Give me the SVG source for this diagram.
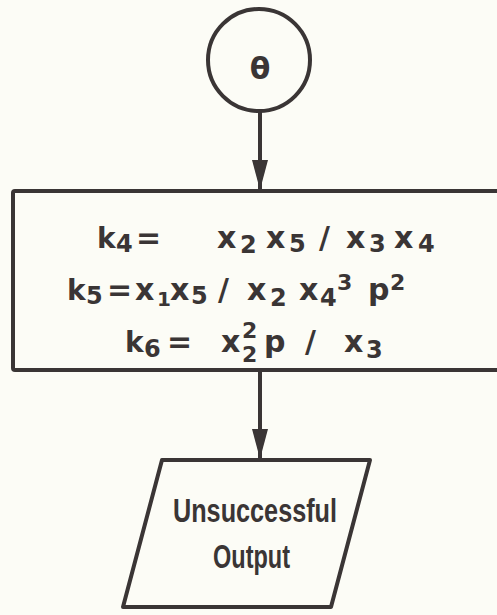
<svg xmlns="http://www.w3.org/2000/svg" width="497" height="615" viewBox="0 0 497 615">
<defs>
<style>
.s{fill:none;stroke:#3a3535;stroke-width:4;stroke-linejoin:round}
.eq{font-family:"DejaVu Sans",sans-serif;font-weight:bold;font-size:30px;fill:#3a3535}
.k{font-size:28px}
.sub{font-size:24px}
.sup{font-size:22px}
.one{font-size:20px}
.out{font-family:"Liberation Sans",sans-serif;font-weight:bold;font-size:33px;fill:#3a3535}
</style>
<marker id="ah" viewBox="0 0 30 16" refX="30" refY="8" markerWidth="30" markerHeight="16" markerUnits="userSpaceOnUse" orient="auto">
<path d="M0,0 L30,8 L0,16 Z" fill="#3a3535"/>
</marker>
</defs>
<rect width="497" height="615" fill="#fcfcf6"/>
<g id="connectors">
<line class="s" x1="260" y1="111" x2="260" y2="190" marker-end="url(#ah)"/>
<line class="s" x1="260" y1="371" x2="260" y2="459" marker-end="url(#ah)"/>
</g>
<g id="theta">
<circle class="s" cx="259" cy="60" r="51"/>
<text x="260" y="79" text-anchor="middle" class="eq" font-size="39">θ</text>
</g>
<g id="compute">
<path class="s" d="M500,191 L15,191 Q13,191 13,193 L13,368 Q13,370 15,370 L500,370"/>
<text class="eq"><tspan class="k" x="97" y="248">k</tspan><tspan class="sub" x="116" y="252">4</tspan><tspan x="136" y="248">=</tspan><tspan x="217" y="248">x</tspan><tspan class="sub" x="240" y="253">2</tspan><tspan x="266" y="248">x</tspan><tspan class="sub" x="289" y="252">5</tspan><tspan x="319" y="248">/</tspan><tspan x="346" y="248">x</tspan><tspan class="sub" x="369" y="252">3</tspan><tspan x="394" y="248">x</tspan><tspan class="sub" x="418" y="252">4</tspan></text>
<text class="eq"><tspan class="k" x="67" y="300">k</tspan><tspan class="sub" x="86" y="304">5</tspan><tspan x="107" y="300">=</tspan><tspan x="135" y="300">x</tspan><tspan class="one" x="157" y="306">1</tspan><tspan x="170" y="300">x</tspan><tspan class="sub" x="191" y="304">5</tspan><tspan x="218" y="300">/</tspan><tspan x="247" y="300">x</tspan><tspan class="sub" x="270" y="306">2</tspan><tspan x="299" y="300">x</tspan><tspan class="sub" x="320" y="306">4</tspan><tspan class="sup" x="337" y="290">3</tspan><tspan x="368" y="300">p</tspan><tspan class="sup" x="390" y="290">2</tspan></text>
<text class="eq"><tspan class="k" x="125" y="352">k</tspan><tspan class="sub" x="144" y="357">6</tspan><tspan x="167" y="352">=</tspan><tspan x="221" y="352">x</tspan><tspan class="sup" x="242" y="362">2</tspan><tspan class="sup" x="242" y="338">2</tspan><tspan x="264" y="352">p</tspan><tspan x="305" y="352">/</tspan><tspan x="344" y="352">x</tspan><tspan class="sub" x="366" y="358">3</tspan></text>
</g>
<g id="output">
<path class="s" d="M162,460 L370,460 L331,607 L123,607 Z"/>
<text x="173" y="522" class="out" textLength="164" lengthAdjust="spacingAndGlyphs">Unsuccessful</text>
<text x="213" y="568" class="out" textLength="77" lengthAdjust="spacingAndGlyphs">Output</text>
</g>
</svg>
